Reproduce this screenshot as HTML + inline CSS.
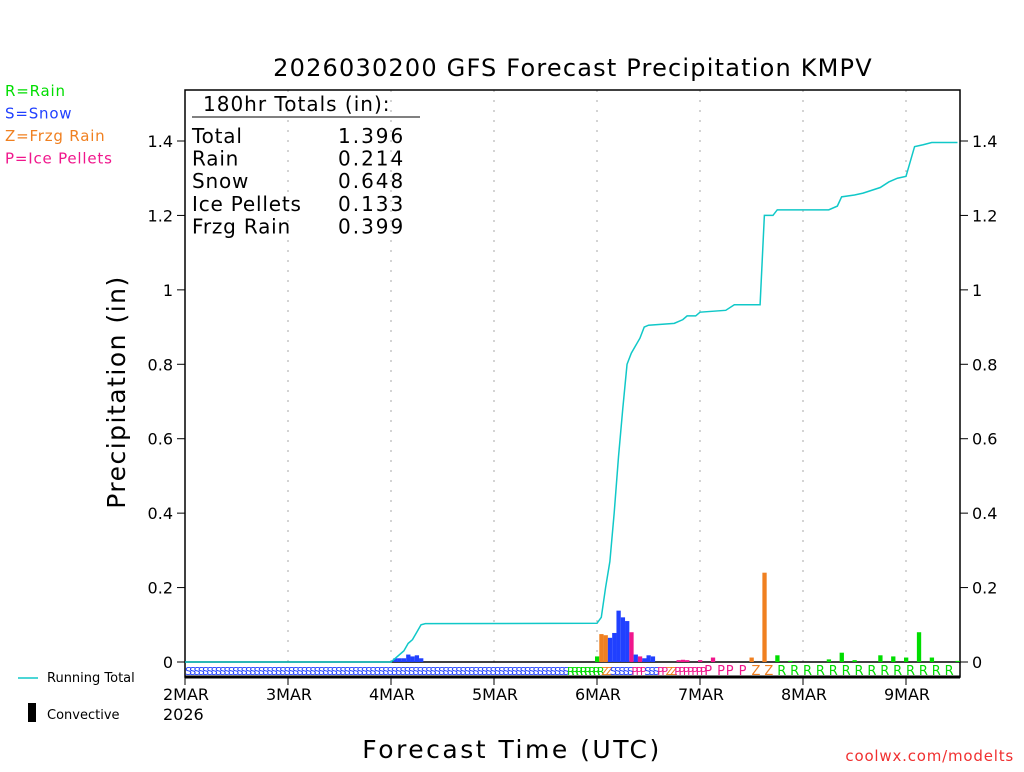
<!DOCTYPE html>
<html><head><meta charset="utf-8"><style>
body{margin:0;background:#fff;width:1024px;height:768px;overflow:hidden;font-family:"DejaVu Sans","Liberation Sans",sans-serif}
svg text{font-family:"DejaVu Sans","Liberation Sans",sans-serif}
</style></head><body>
<svg id="c" width="1024" height="768" xmlns="http://www.w3.org/2000/svg"></svg>
<script>
const dayLabels=["2MAR","3MAR","4MAR","5MAR","6MAR","7MAR","8MAR","9MAR"];
const yTicks=[0,0.2,0.4,0.6,0.8,1,1.2,1.4];
const yTickLabels=["0","0.2","0.4","0.6","0.8","1","1.2","1.4"];
const barHours=[49,50,51,52,53,54,55,96,97,98,99,100,101,102,103,104,105,106,107,108,109,115,116,117,120,123,132,135,138,141,150,153,156,162,165,168,171,174,180];
const barValues=[0.01,0.01,0.01,0.02,0.015,0.018,0.01,0.015,0.075,0.072,0.065,0.078,0.138,0.12,0.11,0.08,0.02,0.015,0.01,0.018,0.015,0.005,0.006,0.005,0.005,0.012,0.012,0.24,0.018,0.003,0.007,0.025,0.005,0.018,0.015,0.012,0.08,0.012,0.003];
const barTypes=["S","S","S","S","S","S","S","R","Z","Z","S","S","S","S","S","P","S","P","S","S","S","P","P","P","P","P","Z","Z","R","R","R","R","R","R","R","R","R","R","R"];
const totHours=[0,48,49,51,52,53,54,55,56,96,97,98,99,100,101,102,103,104,105,106,107,108,114,116,117,119,120,126,128,134,135,137,138,150,152,153,156,158,162,164,166,168,170,172,174,180];
const totValues=[0,0,0.01,0.03,0.05,0.06,0.08,0.1,0.103,0.104,0.12,0.2,0.27,0.4,0.55,0.68,0.8,0.83,0.85,0.87,0.9,0.905,0.91,0.92,0.93,0.93,0.94,0.945,0.96,0.96,1.2,1.2,1.215,1.215,1.225,1.25,1.255,1.26,1.275,1.29,1.3,1.305,1.385,1.39,1.396,1.396];
const stripSegStart=[0,89,97,99,104,107,110,112,114,121,126,132,138];
const stripSegType=["S","R","Z","S","P","S","P","Z","P","P","P","Z","R"];
const totNames=["Total","Rain","Snow","Ice Pellets","Frzg Rain"];
const totVals=["1.396","0.214","0.648","0.133","0.399"];

const col={R:"#00dd00",S:"#2040ff",Z:"#f08020",P:"#f0168c"};
const X0=185,X1=960,Y0=662,PPY=(662-141)/1.4,PPH=103/24;
const xs=h=>X0+h*PPH, ys=v=>Y0-v*PPY;
const svg=document.getElementById('c');const NS="http://www.w3.org/2000/svg";
function el(t,a,txt){const e=document.createElementNS(NS,t);for(const k in a)e.setAttribute(k,a[k]);if(txt!=null)e.textContent=txt;svg.appendChild(e);return e;}

let e;
e=el('text',{x:573,y:76,'text-anchor':'middle','font-size':24,fill:'#000','letter-spacing':1.2},'2026030200 GFS Forecast Precipitation KMPV');


for(let d=1;d<8;d++){e=el('line',{x1:xs(d*24),x2:xs(d*24),y1:90,y2:662,stroke:'#aaa','stroke-dasharray':'2,8'});

}
e=el('rect',{x:X0,y:90,width:X1-X0,height:587,fill:'none',stroke:'#000','stroke-width':1.5});


for(let i=0;i<stripSegStart.length;i++){const h0=stripSegStart[i],h1=i+1<stripSegStart.length?stripSegStart[i+1]:180;
const step=h0>=120?3:1;
for(let h=h0;h<h1;h+=step){e=el('text',{x:xs(h),y:675,'font-size':h0>=120?13:11,fill:col[stripSegType[i]]},stripSegType[i]);

}}
e=el('line',{x1:X0,x2:X1,y1:677,y2:677,stroke:'#000','stroke-width':3});


e=el('line',{x1:X0,x2:X1,y1:Y0,y2:Y0,stroke:'#000','stroke-width':1.5});


for(let i=0;i<barHours.length;i++){const v=barValues[i];
e=el('rect',{x:xs(barHours[i])-2,y:ys(v),width:4.3,height:Y0-ys(v),fill:col[barTypes[i]]});

}
e=el('polyline',{points:totHours.map((h,i)=>xs(h)+','+ys(totValues[i])).join(' '),fill:'none',stroke:'#10c8c8','stroke-width':1.5});


yTicks.forEach((t,i)=>{const y=ys(t);
e=el('line',{x1:X0-8,x2:X0,y1:y,y2:y,stroke:'#000'});


e=el('line',{x1:X1,x2:X1+8,y1:y,y2:y,stroke:'#000'});


e=el('text',{x:X0-12,y:y+6,'text-anchor':'end','font-size':16,fill:'#000'},yTickLabels[i]);


e=el('text',{x:X1+12,y:y+6,'font-size':16,fill:'#000'},yTickLabels[i]);

});
dayLabels.forEach((d,i)=>{const x=xs(i*24);
e=el('line',{x1:x,x2:x,y1:677,y2:685,stroke:'#000'});


e=el('text',{x:x-22,y:700,'font-size':16,fill:'#000'},d);

});
e=el('text',{x:163,y:720,'font-size':16,fill:'#000'},'2026');


e=el('text',{x:512,y:758,'text-anchor':'middle','font-size':25,fill:'#000','letter-spacing':2.5},'Forecast Time (UTC)');


e=el('text',{x:125,y:392,'text-anchor':'middle','font-size':25,fill:'#000','letter-spacing':1.5,transform:'rotate(-90 125 392)'},'Precipitation (in)');


e=el('text',{x:203,y:111,'font-size':20,fill:'#000','letter-spacing':1},'180hr Totals (in):');


e=el('line',{x1:192,x2:420,y1:117,y2:117,stroke:'#000'});


totNames.forEach((n,i)=>{
e=el('text',{x:192,y:143+i*22.6,'font-size':20,fill:'#000','letter-spacing':0.8},n);


e=el('text',{x:338,y:143+i*22.6,'font-size':20,fill:'#000','letter-spacing':2},totVals[i]);

});
[["R=Rain","#00dd00"],["S=Snow","#2040ff"],["Z=Frzg Rain","#f08020"],["P=Ice Pellets","#f0168c"]].forEach((l,i)=>{
e=el('text',{x:5,y:96+i*22.5,'font-size':15,fill:l[1],'letter-spacing':0.8},l[0]);

});
e=el('line',{x1:18,x2:38,y1:678,y2:678,stroke:'#10c8c8','stroke-width':1.5});


e=el('text',{x:47,y:682,'font-size':13,fill:'#000'},'Running Total');


e=el('rect',{x:28,y:703,width:8,height:19,fill:'#000'});


e=el('text',{x:47,y:719,'font-size':13,fill:'#000'},'Convective');


e=el('text',{x:1014,y:761,'text-anchor':'end','font-size':15,fill:'#f03030','letter-spacing':0.8},'coolwx.com/modelts');


</script>
</body></html>
